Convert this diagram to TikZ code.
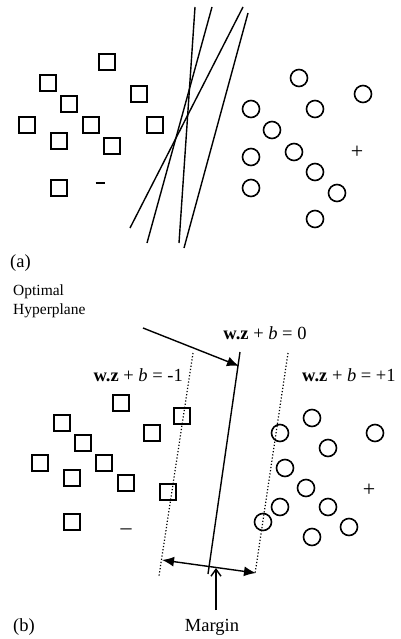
\documentclass[tikz,border=0pt]{standalone}
\usepackage{fontspec}
\setmainfont{Liberation Serif}
\usetikzlibrary{arrows.meta}
\begin{document}
\begin{tikzpicture}[x=1pt,y=-1pt,
  sq/.style={draw,line width=1.6pt,minimum size=16pt,inner sep=0pt},
  ci/.style={draw,circle,line width=1.6pt,minimum size=17pt,inner sep=0pt},
  sep/.style={line width=1.4pt},
  lab/.style={font=\fontsize{18.5}{21}\selectfont,inner sep=0pt},
  sym/.style={font=\fontsize{22}{24}\selectfont,inner sep=0pt},
  fill arrow/.style={-{Latex[length=12pt,width=10pt]}}
]
\useasboundingbox (0,0) rectangle (400,639);
% ---------- (a) ----------
\foreach \n/\x/\y in {1/107/62,2/48/83,3/139/94,4/69/104,5/27/125,6/91/125,7/155/125,8/59/141,9/112/146,10/59/188}
  \node[sq] (as\n) at (\x,\y) {};
\foreach \n/\x/\y in {1/299/78,2/363/94,3/251/109,4/315/109,5/272/130,6/251/157,7/294/152,8/315/172,9/251/188,10/337/193,11/315/219}
  \node[ci] (ac\n) at (\x,\y) {};
\node[inner sep=0pt] (aminus) at (100,183) {\rule{9pt}{2.4pt}};
\node[sym] (aplus) at (357,152) {+};
\coordinate (l1a) at (195,7);   \coordinate (l1b) at (179,243);
\coordinate (l2a) at (212,7);   \coordinate (l2b) at (147,243);
\coordinate (l3a) at (243,7);   \coordinate (l3b) at (130,228);
\coordinate (l4a) at (248,13);  \coordinate (l4b) at (184,248);
\foreach \i in {1,2,3,4} \draw[sep] (l\i a) -- (l\i b);
\node[lab,anchor=west] (alab) at (10,263) {(a)};
% ---------- (b) ----------
\node[lab,anchor=west,align=left,font=\fontsize{15.5}{19}\selectfont] (opt) at (13,301) {Optimal\\Hyperplane};
\foreach \n/\x/\y in {1/121/403,2/62/423,3/182/416,4/152/433,5/83/443,6/40/463,7/104/463,8/72/478,9/126/483,10/168/492,11/72/522}
  \node[sq] (bs\n) at (\x,\y) {};
\foreach \n/\x/\y in {1/312/418,2/280/433,3/375/433,4/328/448,5/285/468,6/306/488,7/280/507,8/328/507,9/263/522,10/349/527,11/312/537}
  \node[ci] (bc\n) at (\x,\y) {};
\node[sym] (bminus) at (126,532) {–};
\node[sym] (bplus) at (369,490) {+};
% hyperplanes
\coordinate (h0a) at (240,352); \coordinate (h0b) at (208,574);
\coordinate (hma) at (193,353); \coordinate (hmb) at (159,576);
\coordinate (hpa) at (288,353); \coordinate (hpb) at (255,574);
\draw[sep] (h0a) -- (h0b);
\draw[line width=1.2pt,dotted] (hma) -- (hmb);
\draw[line width=1.2pt,dotted] (hpa) -- (hpb);
% labels
\node[lab] (l0) at (265,333) {\textbf{w.z} + \textit{b} = 0};
\node[lab,anchor=west] (lp) at (302,375) {\textbf{w.z} + \textit{b} = +1};
\node[lab,anchor=east] (lm) at (183,375) {\textbf{w.z} + \textit{b} = -1};
% arrow to optimal hyperplane
\coordinate (oa) at (143,328);
\coordinate (ob) at (239,366);
\draw[sep,fill arrow] (oa) -- (ob);
% margin arrow
\coordinate (ml) at (162,560);
\coordinate (mr) at (256,573);
\draw[sep,{Latex[length=12pt,width=10pt]}-{Latex[length=12pt,width=10pt]}] (ml) -- (mr);
\node[lab] (margin) at (212,627) {Margin};
\coordinate (mt) at (216,568);
\draw[sep,-{Straight Barb[length=7pt,width=10pt,line width=1.4pt]}] (216,610) -- (mt);
\node[lab,anchor=west] (blab) at (13,627) {(b)};
\end{tikzpicture}
\end{document}
